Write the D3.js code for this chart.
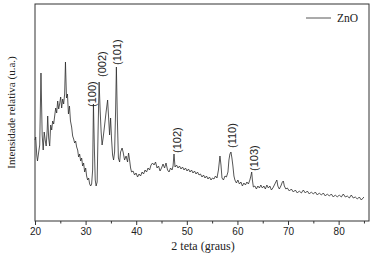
<!DOCTYPE html>
<html>
<head>
<meta charset="utf-8">
<script src="https://cdn.jsdelivr.net/npm/d3@7/dist/d3.min.js"></script>
<style>
  html, body { margin: 0; padding: 0; background: #fff; }
  svg { display: block; }
</style>
</head>
<body>
<svg id="chart"></svg>
<script>
// XRD pattern, ZnO — 2θ (degrees) vs relative intensity (a.u.)
const twoTheta = [
  20.00, 20.14, 20.34, 20.49, 20.73, 20.93, 21.18, 21.42, 21.62, 21.82,
  22.01, 22.21, 22.41, 22.51, 22.70, 22.90, 23.10, 23.30, 23.49, 23.69,
  23.89, 24.09, 24.28, 24.48, 24.68, 24.87, 25.07, 25.27, 25.47, 25.66,
  25.86, 26.02, 26.22, 26.41, 26.61, 26.81, 27.01, 27.24, 27.44, 27.64,
  27.83, 28.03, 28.23, 28.43, 28.62, 28.82, 29.02, 29.22, 29.41, 29.61,
  29.81, 30.01, 30.20, 30.40, 30.60, 30.80, 31.00, 31.19, 31.39, 31.55,
  31.74, 31.90, 32.08, 32.28, 32.47, 32.67, 32.87, 33.07, 33.26, 33.46,
  33.76, 34.05, 34.35, 34.55, 34.74, 34.94, 35.14, 35.33, 35.53, 35.73,
  35.93, 36.08, 36.28, 36.48, 36.72, 36.91, 37.21, 37.41, 37.70, 38.00,
  38.29, 38.49, 38.69, 38.89, 39.08, 39.38, 39.68, 39.97, 40.27, 40.56,
  40.86, 41.16, 41.45, 41.75, 42.04, 42.34, 42.64, 42.93, 43.23, 43.53,
  43.82, 44.12, 44.41, 44.71, 45.00, 45.30, 45.60, 45.89, 46.19, 46.49,
  46.78, 47.08, 47.28, 47.47, 47.67, 47.97, 48.26, 48.56, 48.85, 49.15,
  49.45, 49.74, 50.04, 50.33, 50.63, 50.93, 51.22, 51.52, 51.82, 52.11,
  52.41, 52.70, 53.00, 53.30, 53.59, 53.89, 54.18, 54.48, 54.78, 55.07,
  55.37, 55.66, 55.96, 56.25, 56.55, 56.75, 56.95, 57.24, 57.54, 57.83,
  58.13, 58.32, 58.52, 58.72, 58.91, 59.11, 59.31, 59.50, 59.80, 60.09,
  60.39, 60.69, 60.98, 61.28, 61.58, 61.87, 62.17, 62.46, 62.66, 62.82,
  62.96, 63.15, 63.45, 63.75, 64.04, 64.34, 64.63, 64.93, 65.23, 65.52,
  65.82, 66.11, 66.41, 66.71, 67.00, 67.30, 67.59, 67.79, 67.99, 68.28,
  68.58, 68.88, 69.07, 69.27, 69.57, 69.86, 70.26, 70.65, 71.05, 71.44,
  71.84, 72.23, 72.63, 73.02, 73.42, 73.81, 74.21, 74.60, 75.00, 75.39,
  75.79, 76.18, 76.58, 76.97, 77.37, 77.76, 78.16, 78.55, 78.95, 79.34,
  79.74, 80.13, 80.53, 80.92, 81.32, 81.71, 82.11, 82.50, 82.90, 83.29,
  83.69, 84.08, 84.48, 85.00
];
const intensity = [
   81,  84,  66,  60,  69,  76, 148,  86,  71,  89,
   81,  75,  91, 105,  83,  75,  96,  91, 100,  97,
  105, 113, 108, 120, 112, 117, 124, 113, 122, 117,
  127, 159, 123, 127, 107, 115, 100,  94,  85,  82,
   78,  80,  74,  71,  64,  67,  60,  63,  55,  58,
   49,  53,  45,  41,  43,  37,  35,  37,  51, 117,
   71,  41,  35,  39,  91, 139, 111,  89,  76,  83,
   96, 109, 121, 103,  86, 103,  81,  66,  61,  69,
  111, 154, 101,  63,  59,  69,  73,  69,  61,  65,
   59,  68,  61,  53,  49,  50,  46,  48,  44,  47,
   45,  49,  47,  51,  49,  53,  51,  56,  58,  56,
   59,  53,  55,  50,  53,  57,  53,  58,  51,  49,
   53,  51,  55,  67,  54,  56,  53,  55,  52,  54,
   51,  53,  50,  52,  49,  51,  48,  50,  47,  49,
   46,  47,  44,  46,  43,  45,  42,  44,  41,  43,
   42,  45,  43,  51,  65,  56,  43,  41,  45,  44,
   49,  61,  67,  69,  63,  55,  45,  41,  38,  41,
   37,  39,  35,  38,  36,  39,  37,  41,  45,  49,
   41,  34,  35,  32,  35,  33,  36,  33,  35,  32,
   36,  33,  35,  31,  33,  36,  39,  41,  35,  32,
   35,  39,  40,  35,  32,  33,  30,  32,  29,  31,
   28,  30,  28,  31,  28,  30,  27,  29,  27,  29,
   26,  28,  26,  28,  25,  27,  25,  27,  24,  26,
   24,  26,  24,  27,  24,  25,  23,  26,  23,  24,
   22,  24,  21,  24
];

// Miller indices of the ZnO reflections and where each label sits
const peakHkl = ['(100)', '(002)', '(101)', '(102)', '(110)', '(103)'];
const peakTheta = [31.2, 33.18, 36.24, 48.0, 58.87, 63.3];
const peakLabelI = [114, 144, 156, 68, 73, 50];

const majorTicks = [20, 30, 40, 50, 60, 70, 80];
const minorTicks = [25, 35, 45, 55, 65, 75, 85];

const totalWidth = 376, totalHeight = 257;
const margin = { top: 4, right: 7, bottom: 36, left: 35 };
const width = totalWidth - margin.left - margin.right;
const height = totalHeight - margin.top - margin.bottom;

const svgRoot = d3.select('#chart')
  .attr('width', totalWidth)
  .attr('height', totalHeight);

const svg = svgRoot.append('g')
  .attr('transform', `translate(${margin.left},${margin.top})`);

// Scales
const x = d3.scaleLinear().domain([20, 86]).range([0, width]);
const y = d3.scaleLinear().domain([0, 217]).range([height, 0]);

const points = twoTheta.map((t, i) => ({ t, v: intensity[i] }));

// Pattern
const line = d3.line()
  .x(d => x(d.t))
  .y(d => y(d.v));

svg.append('path')
  .datum(points)
  .attr('fill', 'none')
  .attr('stroke', '#2b2b2b')
  .attr('stroke-width', 0.8)
  .attr('stroke-linejoin', 'round')
  .attr('d', line);

// Frame
svg.append('rect')
  .attr('x', 0)
  .attr('y', 0)
  .attr('width', width)
  .attr('height', height)
  .attr('fill', 'none')
  .attr('stroke', '#333')
  .attr('stroke-width', 1);

// X axis, major ticks with labels
const xAxis = svg.append('g')
  .attr('transform', `translate(0,${height})`)
  .call(d3.axisBottom(x).tickValues(majorTicks).tickSize(4).tickPadding(3).tickFormat(d3.format('d')));
xAxis.select('.domain').remove();
xAxis.selectAll('.tick line').attr('stroke', '#333');
xAxis.selectAll('.tick text')
  .attr('fill', '#222')
  .attr('font-size', '10px')
  .attr('font-family', '"Liberation Sans", Arial, sans-serif');

// X axis, minor ticks
const xMinor = svg.append('g')
  .attr('transform', `translate(0,${height})`)
  .call(d3.axisBottom(x).tickValues(minorTicks).tickSize(2.5).tickFormat(''));
xMinor.select('.domain').remove();
xMinor.selectAll('.tick line').attr('stroke', '#333');

// Peak labels
svg.selectAll('.peak-label')
  .data(peakHkl)
  .enter()
  .append('text')
  .attr('class', 'peak-label')
  .attr('transform', (d, i) => `translate(${x(peakTheta[i])},${y(peakLabelI[i])}) rotate(-90)`)
  .attr('dy', '0.35em')
  .attr('text-anchor', 'start')
  .attr('fill', '#222')
  .attr('font-size', '11px')
  .attr('font-family', '"Liberation Sans", Arial, sans-serif')
  .text(d => d);

// Axis titles
svgRoot.append('text')
  .attr('x', 203)
  .attr('y', 250)
  .attr('text-anchor', 'middle')
  .attr('fill', '#222')
  .attr('font-size', '12px')
  .attr('font-family', '"Liberation Serif", "Times New Roman", serif')
  .text('2 teta (graus)');

svgRoot.append('text')
  .attr('transform', `translate(15,${margin.top + height / 2}) rotate(-90)`)
  .attr('text-anchor', 'middle')
  .attr('fill', '#222')
  .attr('font-size', '11px')
  .attr('font-family', '"Liberation Serif", "Times New Roman", serif')
  .text('Intensidade relativa (u.a.)');

// Legend
const legend = svg.append('g')
  .attr('transform', `translate(${width - 63},14)`);
legend.append('line')
  .attr('x1', 0).attr('x2', 25)
  .attr('y1', 0).attr('y2', 0)
  .attr('stroke', '#2b2b2b')
  .attr('stroke-width', 0.8);
legend.append('text')
  .attr('x', 31)
  .attr('y', 4)
  .attr('fill', '#222')
  .attr('font-size', '11.5px')
  .attr('font-family', '"Liberation Serif", "Times New Roman", serif')
  .text('ZnO');
</script>
</body>
</html>
